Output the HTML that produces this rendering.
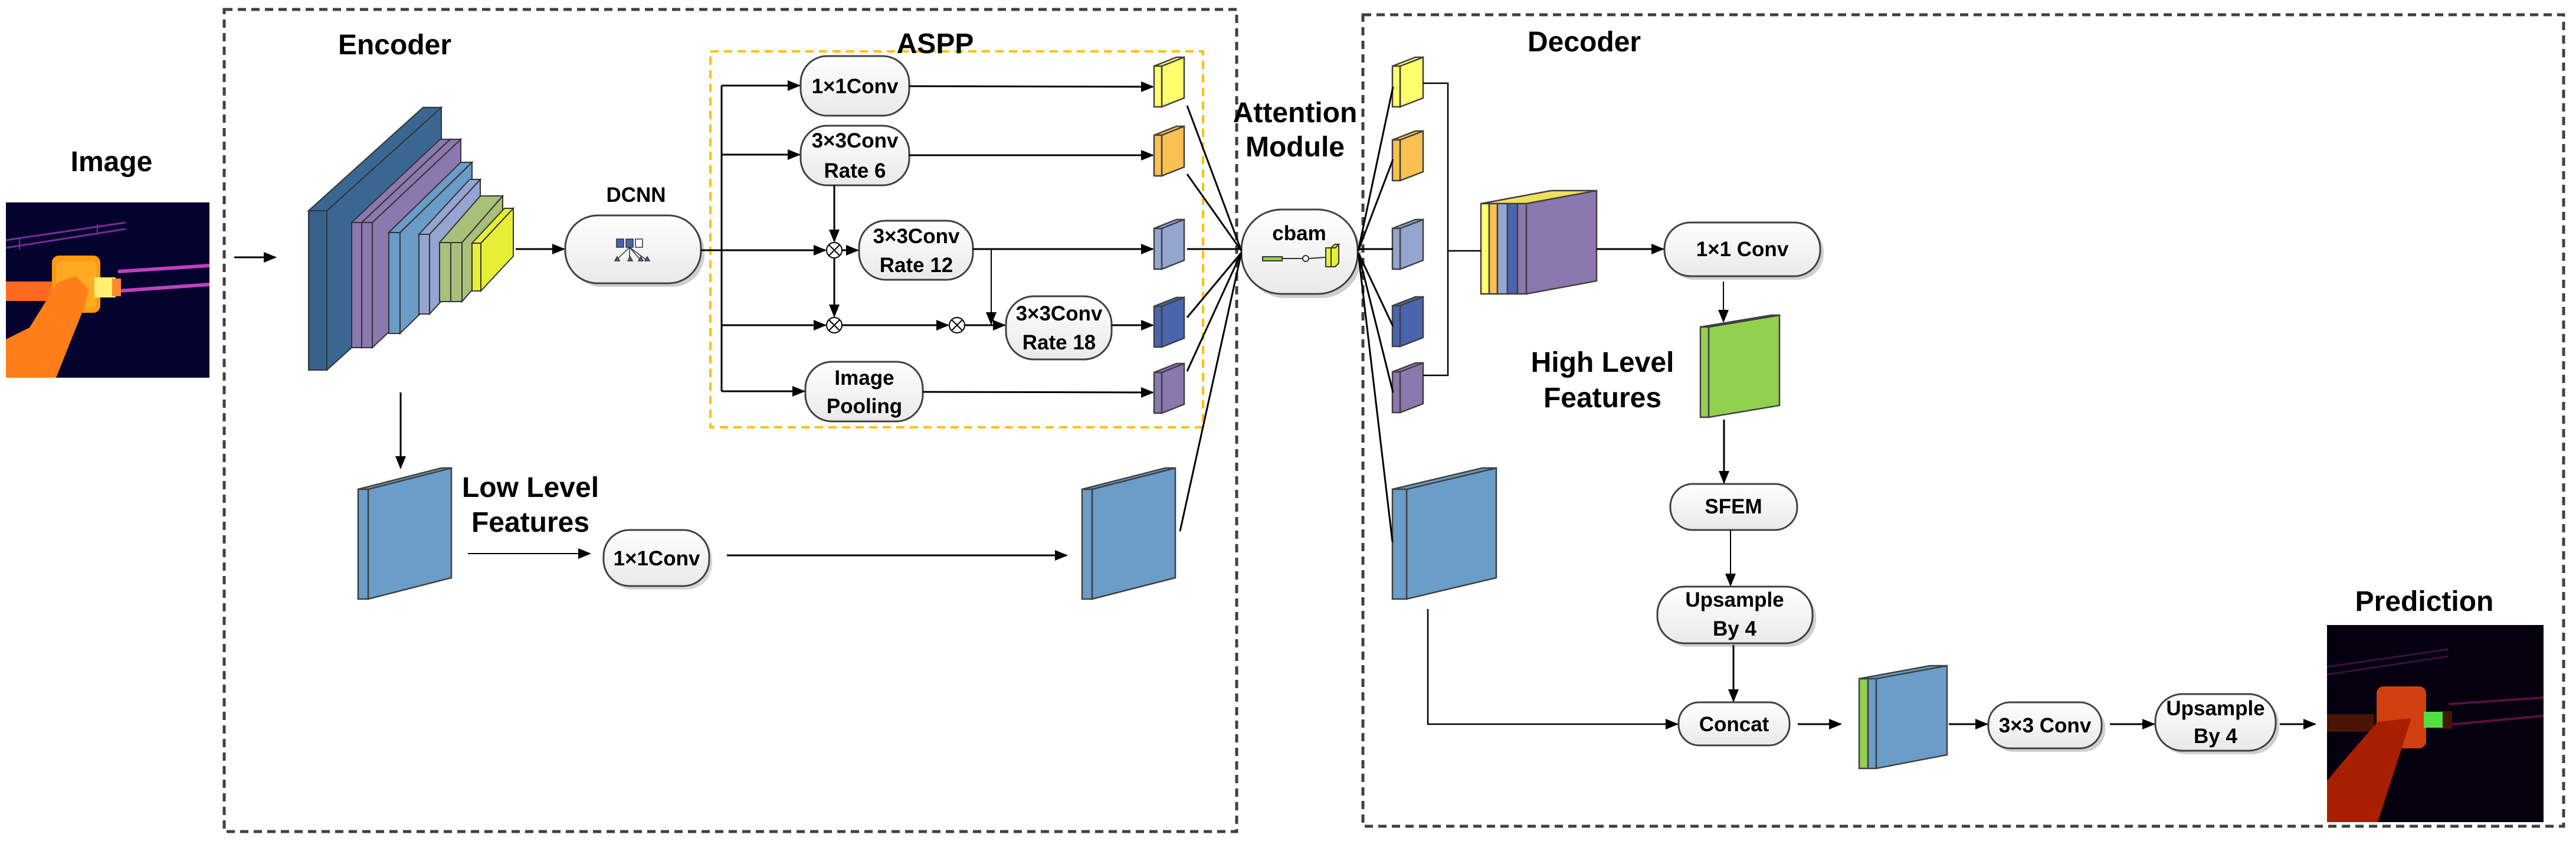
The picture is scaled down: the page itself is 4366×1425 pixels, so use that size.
<!DOCTYPE html>
<html><head><meta charset="utf-8"><style>
html,body{margin:0;padding:0;background:#fff;}
svg{display:block;}
text{font-family:"Liberation Sans",Arial,sans-serif;font-weight:bold;fill:#000;}
</style></head><body>
<svg width="4366" height="1425" viewBox="0 0 4366 1425" xmlns="http://www.w3.org/2000/svg">
<defs>
<marker id="ah" markerWidth="22" markerHeight="18" refX="20" refY="9" orient="auto" markerUnits="userSpaceOnUse">
<path d="M0,0 L22,9 L0,18 z" fill="#000"/></marker>
<linearGradient id="pg" x1="0" y1="0" x2="0" y2="1"><stop offset="0" stop-color="#ffffff"/><stop offset="1" stop-color="#e9e9e9"/></linearGradient>
</defs>

<rect x="380" y="16" width="1716" height="1393" fill="none" stroke="#404040" stroke-width="5" stroke-dasharray="14,9"/>
<rect x="2310" y="25" width="2035" height="1375" fill="none" stroke="#404040" stroke-width="5" stroke-dasharray="14,9"/>
<rect x="1204" y="87" width="835" height="637" fill="none" stroke="#ffc000" stroke-width="4" stroke-dasharray="14,9"/>

<text x="189" y="290" font-size="48" text-anchor="middle">Image</text>
<text x="669" y="92" font-size="48" text-anchor="middle">Encoder</text>
<text x="1585" y="90" font-size="48" text-anchor="middle">ASPP</text>
<text x="2195" y="207" font-size="48" text-anchor="middle">Attention</text>
<text x="2195" y="265" font-size="48" text-anchor="middle">Module</text>
<text x="2685" y="87" font-size="48" text-anchor="middle">Decoder</text>
<text x="2716" y="630" font-size="48" text-anchor="middle">High Level</text>
<text x="2716" y="690" font-size="48" text-anchor="middle">Features</text>
<text x="899" y="842" font-size="48" text-anchor="middle">Low Level</text>
<text x="899" y="901" font-size="48" text-anchor="middle">Features</text>
<text x="4109" y="1035" font-size="48" text-anchor="middle">Prediction</text>
<text x="1078" y="342" font-size="35" text-anchor="middle">DCNN</text>

<g>
<rect x="10" y="343" width="345" height="297" fill="#03032e"/>
<path d="M10,420 L213,388 M10,407 L213,377" stroke="#7a2a9a" stroke-width="3" fill="none"/>
<path d="M33,405 L33,423 M165,380 L165,398" stroke="#7a2a9a" stroke-width="2"/>
<path d="M200,460 L355,450 M200,493 L355,482" stroke="#c040c0" stroke-width="6" fill="none"/>
<rect x="10" y="477" width="82" height="33" fill="#ff6a20"/>
<rect x="88" y="433" width="82" height="97" rx="12" fill="#ff9a10"/>
<rect x="96" y="442" width="68" height="80" rx="8" fill="#ffaa22"/>
<rect x="160" y="470" width="36" height="34" fill="#fff070"/>
<rect x="190" y="472" width="15" height="30" fill="#ff8a30"/>
<polygon points="98,478 128,468 150,490 145,515 95,640 10,640 10,575 50,555" fill="#ff7e1a"/>
</g>

<line x1="397" y1="436" x2="467" y2="436" stroke="#000" stroke-width="3" marker-end="url(#ah)"/>

<g stroke="#333" stroke-width="2">
<polygon points="554,357 748,182 748,452 554,627" fill="#3a6792"/>
<polygon points="523,357 717,182 748,182 554,357" fill="#3a6792"/>
<rect x="523" y="357" width="31" height="270" fill="#35618a"/>
<polygon points="613,377 763,236 763,448 613,589" fill="#8a78ae"/>
<polygon points="596,377 746,236 763,236 613,377" fill="#8a78ae"/>
<rect x="596" y="377" width="17" height="212" fill="#8a78ae"/>
<polygon points="631,377 781,236 781,448 631,589" fill="#8a78ae"/>
<polygon points="613,377 763,236 781,236 631,377" fill="#8a78ae"/>
<rect x="613" y="377" width="18" height="212" fill="#8a78ae"/>
<polygon points="678,394 800,275 800,446 678,565" fill="#6b9bc8"/>
<polygon points="659,394 781,275 800,275 678,394" fill="#6b9bc8"/>
<rect x="659" y="394" width="19" height="171" fill="#6b9bc8"/>
<polygon points="728,397 814,304 814,439 728,532" fill="#93a5d0"/>
<polygon points="710,397 796,304 814,304 728,397" fill="#93a5d0"/>
<rect x="710" y="397" width="18" height="135" fill="#93a5d0"/>
<polygon points="783,411 852,332 852,432 783,511" fill="#a9c07a"/>
<polygon points="745,411 814,332 852,332 783,411" fill="#a9c07a"/>
<rect x="745" y="411" width="19" height="100" fill="#a9c07a"/>
<rect x="764" y="411" width="19" height="100" fill="#a9c07a"/>
<polygon points="815,412 870,353 870,434 815,493" fill="#e6ef36"/>
<polygon points="800,412 855,353 870,353 815,412" fill="#e6ef36"/>
<rect x="800" y="412" width="15" height="81" fill="#e6ef36"/>
</g>

<line x1="874" y1="422" x2="956" y2="422" stroke="#000" stroke-width="3" marker-end="url(#ah)"/>

<g stroke="#404040" stroke-width="3">
<rect x="964" y="371" width="230" height="115" rx="55" fill="#cfcfcf" stroke="none"/>
<rect x="958" y="365" width="230" height="115" rx="55" fill="url(#pg)"/>
<rect x="1357" y="95" width="184" height="101" rx="45" fill="url(#pg)"/>
<rect x="1357" y="213" width="184" height="101" rx="45" fill="url(#pg)"/>
<rect x="1456" y="374" width="193" height="100" rx="45" fill="url(#pg)"/>
<rect x="1705" y="502" width="179" height="107" rx="47" fill="url(#pg)"/>
<rect x="1365" y="613" width="199" height="101" rx="45" fill="url(#pg)"/>
<rect x="1028" y="904" width="179" height="95" rx="44" fill="#d8d8d8" stroke="none"/>
<rect x="1023" y="898" width="179" height="95" rx="44" fill="url(#pg)"/>
<rect x="2110" y="362" width="197" height="143" rx="68" fill="#cfcfcf" stroke="none"/>
<rect x="2104" y="355" width="197" height="143" rx="68" fill="url(#pg)"/>
<rect x="2827" y="383" width="264" height="91" rx="44" fill="#d0d0d0" stroke="none"/>
<rect x="2821" y="377" width="264" height="91" rx="44" fill="url(#pg)"/>
<rect x="2831" y="820" width="215" height="78" rx="38" fill="url(#pg)"/>
<rect x="2815" y="1000" width="263" height="96" rx="46" fill="#d0d0d0" stroke="none"/>
<rect x="2809" y="994" width="263" height="96" rx="46" fill="url(#pg)"/>
<rect x="2845" y="1190" width="188" height="73" rx="35" fill="url(#pg)"/>
<rect x="3376" y="1196" width="192" height="78" rx="37" fill="#d0d0d0" stroke="none"/>
<rect x="3370" y="1190" width="192" height="78" rx="37" fill="url(#pg)"/>
<rect x="3659" y="1182" width="204" height="96" rx="46" fill="#d0d0d0" stroke="none"/>
<rect x="3653" y="1176" width="204" height="96" rx="46" fill="url(#pg)"/>
</g>

<g stroke="#333" stroke-width="1.5">
<rect x="1045" y="405" width="12" height="14" fill="#4a64ae"/>
<rect x="1061" y="405" width="12" height="14" fill="#4a64ae"/>
<rect x="1077" y="405" width="12" height="14" fill="#fff"/>
<path d="M1067,419 L1045,440 M1067,419 L1067,440 M1067,419 L1085,440 M1067,419 L1095,440" fill="none"/>
<path d="M1042,442 l4,-7 l4,7z M1064,442 l4,-7 l4,7z M1082,442 l4,-7 l4,7z M1093,442 l4,-7 l4,7z" fill="#4a64ae"/>
</g>

<g font-size="35" text-anchor="middle">
<text x="1449" y="158">1×1Conv</text>
<text x="1449" y="250">3×3Conv</text>
<text x="1449" y="301">Rate 6</text>
<text x="1553" y="412">3×3Conv</text>
<text x="1553" y="461">Rate 12</text>
<text x="1795" y="543">3×3Conv</text>
<text x="1795" y="592">Rate 18</text>
<text x="1465" y="652">Image</text>
<text x="1465" y="700">Pooling</text>
<text x="1113" y="958">1×1Conv</text>
<text x="2202" y="407">cbam</text>
<text x="2953" y="434">1×1 Conv</text>
<text x="2938" y="870">SFEM</text>
<text x="2940" y="1028">Upsample</text>
<text x="2940" y="1077">By 4</text>
<text x="2939" y="1239">Concat</text>
<text x="3466" y="1241">3×3 Conv</text>
<text x="3755" y="1212">Upsample</text>
<text x="3755" y="1259">By 4</text>
</g>

<g stroke="#333" stroke-width="2">
<rect x="2140" y="435" width="33" height="7" fill="#92d050"/>
<line x1="2173" y1="438" x2="2208" y2="438"/>
<circle cx="2213" cy="438" r="5" fill="#fff"/>
<line x1="2218" y1="438" x2="2247" y2="436"/>
<polygon points="2256,420 2262,414 2269,414 2263,420" fill="#e6ef36"/>
<polygon points="2256,420 2263,420 2269,414 2269,446 2263,452 2256,452" fill="#e6ef36"/>
<rect x="2247" y="420" width="9" height="32" fill="#e6ef36"/>
</g>

<g stroke="#000" stroke-width="3" fill="none">
<line x1="1188" y1="424" x2="1399" y2="424" marker-end="url(#ah)"/>
<line x1="1223" y1="145" x2="1223" y2="663"/>
<line x1="1223" y1="145" x2="1355" y2="145" marker-end="url(#ah)"/>
<line x1="1223" y1="262" x2="1355" y2="262" marker-end="url(#ah)"/>
<line x1="1223" y1="551" x2="1399" y2="551" marker-end="url(#ah)"/>
<line x1="1223" y1="663" x2="1363" y2="663" marker-end="url(#ah)"/>
<line x1="1414" y1="314" x2="1414" y2="409" marker-end="url(#ah)"/>
<line x1="1414" y1="438" x2="1414" y2="536" marker-end="url(#ah)"/>
<line x1="1427" y1="424" x2="1454" y2="424" marker-end="url(#ah)"/>
<line x1="1427" y1="551" x2="1607" y2="551" marker-end="url(#ah)"/>
<line x1="1635" y1="551" x2="1703" y2="551" marker-end="url(#ah)"/>
<line x1="1680" y1="422" x2="1680" y2="549" stroke-width="2" marker-end="url(#ah)"/>
<line x1="1541" y1="146" x2="1954" y2="147" marker-end="url(#ah)"/>
<line x1="1541" y1="263" x2="1954" y2="263" marker-end="url(#ah)"/>
<line x1="1649" y1="422" x2="1954" y2="422" marker-end="url(#ah)"/>
<line x1="1884" y1="551" x2="1954" y2="551" marker-end="url(#ah)"/>
<line x1="1564" y1="664" x2="1954" y2="665" marker-end="url(#ah)"/>
</g>
<g stroke="#000" stroke-width="2" fill="#fff">
<circle cx="1414" cy="424" r="13"/><path d="M1405,415 L1423,433 M1423,415 L1405,433"/>
<circle cx="1414" cy="551" r="13"/><path d="M1405,542 L1423,560 M1423,542 L1405,560"/>
<circle cx="1622" cy="551" r="13"/><path d="M1613,542 L1631,560 M1631,542 L1613,560"/>
</g>

<g stroke="#404040" stroke-width="2.5">
<polygon points="1969,112 2007,97 2007,166 1969,181" fill="#ffff6e"/><polygon points="1956,112 1994,97 2007,97 1969,112" fill="#ffff6e"/><rect x="1956" y="112" width="13" height="69" fill="#ffff6e"/>
<polygon points="1969,229 2007,214 2007,283 1969,298" fill="#f9c152"/><polygon points="1956,229 1994,214 2007,214 1969,229" fill="#f9c152"/><rect x="1956" y="229" width="13" height="69" fill="#f9c152"/>
<polygon points="1969,387 2007,372 2007,441 1969,456" fill="#94a6d0"/><polygon points="1956,387 1994,372 2007,372 1969,387" fill="#94a6d0"/><rect x="1956" y="387" width="13" height="69" fill="#94a6d0"/>
<polygon points="1969,519 2007,504 2007,573 1969,588" fill="#4a64ae"/><polygon points="1956,519 1994,504 2007,504 1969,519" fill="#4a64ae"/><rect x="1956" y="519" width="13" height="69" fill="#4a64ae"/>
<polygon points="1969,631 2007,616 2007,685 1969,700" fill="#8a78ae"/><polygon points="1956,631 1994,616 2007,616 1969,631" fill="#8a78ae"/><rect x="1956" y="631" width="13" height="69" fill="#8a78ae"/>
</g>

<g stroke="#404040" stroke-width="2.5">
<polygon points="2373,112 2412,97 2412,166 2373,181" fill="#ffff6e"/><polygon points="2360,112 2399,97 2412,97 2373,112" fill="#ffff6e"/><rect x="2360" y="112" width="13" height="69" fill="#ffff6e"/>
<polygon points="2373,237 2412,222 2412,291 2373,306" fill="#f9c152"/><polygon points="2360,237 2399,222 2412,222 2373,237" fill="#f9c152"/><rect x="2360" y="237" width="13" height="69" fill="#f9c152"/>
<polygon points="2373,387 2412,372 2412,441 2373,456" fill="#94a6d0"/><polygon points="2360,387 2399,372 2412,372 2373,387" fill="#94a6d0"/><rect x="2360" y="387" width="13" height="69" fill="#94a6d0"/>
<polygon points="2373,518 2412,503 2412,572 2373,587" fill="#4a64ae"/><polygon points="2360,518 2399,503 2412,503 2373,518" fill="#4a64ae"/><rect x="2360" y="518" width="13" height="69" fill="#4a64ae"/>
<polygon points="2373,630 2412,615 2412,684 2373,699" fill="#8a78ae"/><polygon points="2360,630 2399,615 2412,615 2373,630" fill="#8a78ae"/><rect x="2360" y="630" width="13" height="69" fill="#8a78ae"/>
</g>

<g stroke="#404040" stroke-width="2.5">
<polygon points="624,829 765,793 765,979 624,1015" fill="#6a9dc8"/><polygon points="607,829 748,793 765,793 624,829" fill="#6a9dc8"/><rect x="607" y="829" width="17" height="186" fill="#6a9dc8"/>
<polygon points="1851,829 1992,793 1992,979 1851,1015" fill="#6a9dc8"/><polygon points="1834,829 1975,793 1992,793 1851,829" fill="#6a9dc8"/><rect x="1834" y="829" width="17" height="186" fill="#6a9dc8"/>
<polygon points="2384,829 2536,793 2536,979 2384,1015" fill="#6a9dc8"/><polygon points="2360,829 2512,793 2536,793 2384,829" fill="#6a9dc8"/><rect x="2360" y="829" width="24" height="186" fill="#6a9dc8"/>
<polygon points="2896,554 3016,534 3016,687 2896,707" fill="#92d050"/><polygon points="2882,554 3002,534 3016,534 2896,554" fill="#92d050"/><rect x="2882" y="554" width="14" height="153" fill="#92d050"/>
<polygon points="2510,345 2629,323 2706,323 2587,345" fill="#f0e060"/>
<rect x="2510" y="345" width="14" height="153" fill="#ffff6e"/>
<rect x="2524" y="345" width="14" height="153" fill="#f9c152"/>
<rect x="2538" y="345" width="17" height="153" fill="#94a6d0"/>
<rect x="2555" y="345" width="17" height="153" fill="#4a64ae"/>
<rect x="2572" y="345" width="15" height="153" fill="#8a78ae"/>
<polygon points="2587,345 2706,323 2706,476 2587,498" fill="#8a78ae"/>
<polygon points="3151,1150 3271,1128 3300,1128 3180,1150" fill="#6a9dc8"/>
<rect x="3151" y="1150" width="15" height="152" fill="#92d050"/>
<rect x="3166" y="1150" width="14" height="152" fill="#6a9dc8"/>
<polygon points="3180,1150 3300,1128 3300,1279 3180,1302" fill="#6a9dc8"/>
</g>

<g stroke="#000" stroke-width="3" fill="none">
<line x1="679" y1="665" x2="679" y2="793" marker-end="url(#ah)"/>
<line x1="793" y1="938" x2="1000" y2="938" stroke-width="2" marker-end="url(#ah)"/>
<line x1="1232" y1="941" x2="1808" y2="941" marker-end="url(#ah)"/>
</g>

<g stroke="#000" stroke-width="3" fill="none">
<line x1="2012" y1="179" x2="2104" y2="425"/>
<line x1="2012" y1="295" x2="2104" y2="425"/>
<line x1="2012" y1="422" x2="2104" y2="422"/>
<line x1="2012" y1="538" x2="2104" y2="428"/>
<line x1="2012" y1="629" x2="2104" y2="428"/>
<line x1="2000" y1="900" x2="2104" y2="428"/>
<line x1="2302" y1="425" x2="2361" y2="147"/>
<line x1="2302" y1="425" x2="2361" y2="270"/>
<line x1="2302" y1="422" x2="2361" y2="422"/>
<line x1="2302" y1="428" x2="2361" y2="553"/>
<line x1="2302" y1="428" x2="2361" y2="665"/>
<line x1="2302" y1="428" x2="2360" y2="918"/>
<polyline points="2412,141 2454,141 2454,636 2412,636" stroke-width="2.5"/>
<line x1="2454" y1="425" x2="2510" y2="425" stroke-width="2.5"/>
</g>

<g stroke="#000" stroke-width="3" fill="none">
<line x1="2706" y1="422" x2="2819" y2="422" marker-end="url(#ah)"/>
<line x1="2921" y1="477" x2="2921" y2="545" stroke-width="2" marker-end="url(#ah)"/>
<line x1="2922" y1="711" x2="2922" y2="818" marker-end="url(#ah)"/>
<line x1="2933" y1="898" x2="2933" y2="992" stroke-width="2" marker-end="url(#ah)"/>
<line x1="2938" y1="1093" x2="2938" y2="1188" marker-end="url(#ah)"/>
<polyline points="2420,1032 2420,1227 2843,1227" stroke-width="2.5" marker-end="url(#ah)"/>
<line x1="3047" y1="1227" x2="3120" y2="1227" marker-end="url(#ah)"/>
<line x1="3303" y1="1227" x2="3368" y2="1227" marker-end="url(#ah)"/>
<line x1="3576" y1="1227" x2="3651" y2="1227" marker-end="url(#ah)"/>
<line x1="3864" y1="1227" x2="3924" y2="1227" marker-end="url(#ah)"/>
</g>

<g>
<rect x="3944" y="1059" width="367" height="334" fill="#05000f"/>
<path d="M3944,1143 L4150,1112 M3944,1130 L4150,1100" stroke="#3a1040" stroke-width="3" fill="none"/>
<path d="M4150,1193 L4311,1182 M4150,1228 L4311,1213" stroke="#5a1040" stroke-width="4" fill="none"/>
<rect x="3944" y="1210" width="80" height="30" fill="#4a1505"/>
<rect x="4028" y="1163" width="84" height="105" rx="12" fill="#d04010"/>
<rect x="4136" y="1205" width="20" height="30" fill="#4a1505"/>
<rect x="4108" y="1206" width="32" height="27" fill="#50e040"/>
<polygon points="4030,1223 4087,1217 4030,1393 3944,1393 3944,1323 3980,1280" fill="#a81e00"/>
</g>
</svg>
</body></html>
